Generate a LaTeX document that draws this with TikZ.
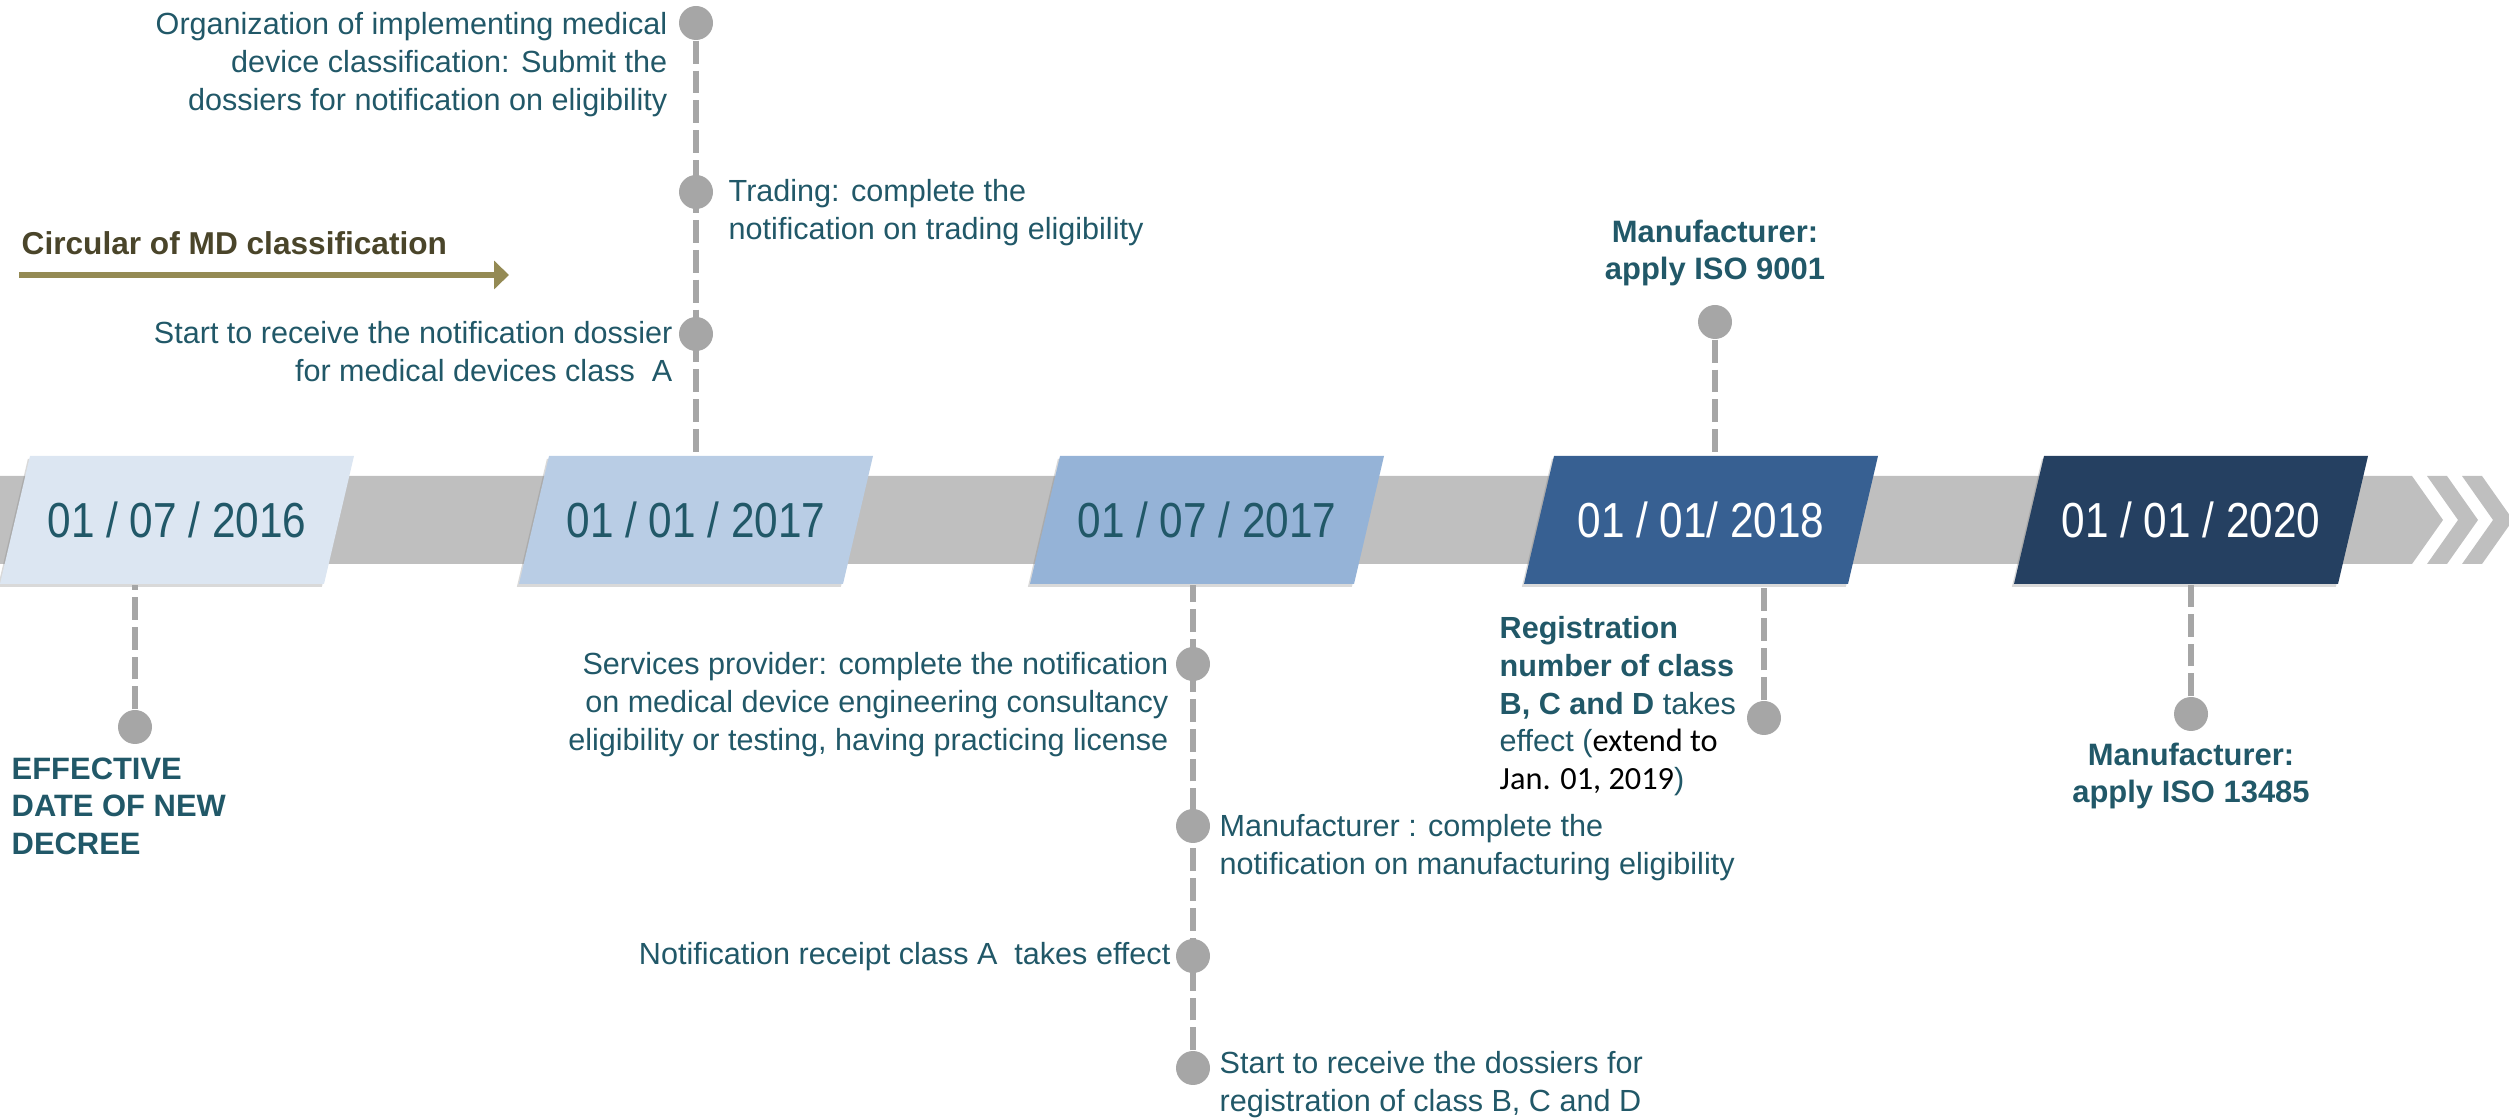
\documentclass[tikz,border=0pt]{standalone}
\usepackage{fontspec}
\setmainfont{Liberation Sans}
\newfontfamily\calfont{Carlito}
\usepackage{graphicx}
\usepackage{tikz}
\usetikzlibrary{arrows.meta,shadows}
\definecolor{tl}{RGB}{33, 88, 104}
\definecolor{gg}{RGB}{191, 191, 191}
\definecolor{dd}{RGB}{166, 166, 166}
\definecolor{ol}{RGB}{148, 138, 84}
\definecolor{od}{RGB}{74, 69, 42}
\definecolor{b1}{RGB}{220, 230, 242}
\definecolor{b2}{RGB}{185, 205, 229}
\definecolor{b3}{RGB}{149, 179, 215}
\definecolor{b4}{RGB}{55, 96, 146}
\definecolor{b5}{RGB}{37, 64, 97}
\def\height{1.28cm}
\def\width{2.94cm}
\tikzset{
	dot/.style={circle,fill=dd,minimum size=0.34cm,inner sep=0cm},
	stem/.style={color=dd,line width=1.5pt,dash pattern=on 6.5pt off 2pt},
	note/.style={text=tl,inner sep=0cm,font=\fontsize{8.7}{10.7}\selectfont},
	bnote/.style={text=tl,inner sep=0cm,font=\fontsize{8.8}{10.7}\selectfont\bfseries}
}
\newcommand{\datenode}[6]{\fill[#4,drop shadow={shadow xshift=-0.6pt,shadow yshift=-0.8pt,opacity=0.3}] (#1-177,#2+64) -- (#1+147,#2+64) -- (#1+177,#2-64) -- (#1-147,#2-64) -- cycle;
	\node[minimum height=\height,minimum width=\width,inner sep=0cm,text=#5,font=\fontsize{14}{16}\selectfont] (#3) at (#1,#2) {\scalebox{0.86}[1]{#6}};}

\begin{document}
\begin{tikzpicture}[x=0.1mm,y=-0.1mm]
\useasboundingbox (0,0) rectangle (2509,1120);
\fill[gg] (0,476) -- (2412,476) -- (2443,520) -- (2412,564) -- (0,564) -- cycle;
\foreach \c in {0,35}
	\fill[gg] (2427+\c,476) -- (2447+\c,476) -- (2478+\c,520) -- (2447+\c,564) -- (2427+\c,564) -- (2458+\c,520) -- cycle;

\datenode{177}{520}{d16}{b1}{tl}{01 / 07 / 2016}
\datenode{696}{520}{d17a}{b2}{tl}{01 / 01 / 2017}
\datenode{1207}{520}{d17b}{b3}{tl}{01 / 07 / 2017}
\datenode{1701}{520}{d18}{b4}{white}{01 / 01/ 2018}
\datenode{2191}{520}{d20}{b5}{white}{01 / 01 / 2020}

\node[dot] (e1) at (135,727) {};
\node[dot] (o1) at (696,23) {};
\node[dot] (o2) at (696,192) {};
\node[dot] (o3) at (696,334) {};
\node[dot] (u1) at (1193,664) {};
\node[dot] (u2) at (1193,826) {};
\node[dot] (u3) at (1193,956) {};
\node[dot] (u4) at (1193,1068) {};
\node[dot] (a1) at (1715,322) {};
\node[dot] (r1) at (1764,718) {};
\node[dot] (m1) at (2191,714) {};

\draw[stem] (e1) -- (e1 |- d16.south);
\draw[stem] (o1) -- (o1 |- d17a.north);
\draw[stem] (u4) -- (u4 |- d17b.south);
\draw[stem] (a1) -- (a1 |- d18.north);
\draw[stem] (r1) -- (r1 |- d18.south);
\draw[stem] (m1) -- (m1 |- d20.south);

\node[note,align=right,anchor=north east] (t1) at (668,12) {Organization of implementing medical\\device classification: Submit the\\dossiers for notification on eligibility};
\node[note,align=left,anchor=north west] (t2) at (728,179) {Trading: complete the\\notification on trading eligibility};
\node[note,align=right,anchor=north east] (t3) at (673,321) {Start to receive the notification dossier\\for medical devices class~ A};
\node[note,align=right,anchor=north east] (t4) at (1169,652) {Services provider: complete the notification\\on medical device engineering consultancy\\eligibility or testing, having practicing license};
\node[note,align=left,anchor=north west] (t5) at (1219,814) {Manufacturer : complete the\\notification on manufacturing eligibility};
\node[note,align=right,anchor=north east] (t6) at (1171,942) {Notification receipt class A~ takes effect};
\node[note,align=left,anchor=north west] (t7) at (1219,1051) {Start to receive the dossiers for\\registration of class B, C and D};
\node[bnote,align=left,anchor=north west] (t8) at (11,757) {EFFECTIVE\\DATE OF NEW\\DECREE};
\node[bnote,align=center,anchor=north] (t9) at (1715,219) {Manufacturer:\\apply ISO 9001};
\node[note,align=left,anchor=north west] (t10) at (1499,616) {\textbf{Registration}\\\textbf{number of class}\\\textbf{B, C and D} takes\\effect ({\calfont\fontsize{9.2}{10.7}\selectfont\color{black}extend to}\\{\calfont\fontsize{9.2}{10.7}\selectfont\color{black}Jan. 01, 2019})};
\node[bnote,align=center,anchor=north] (t11) at (2191,742) {Manufacturer:\\apply ISO 13485};

\node[bnote,text=od,font=\fontsize{9}{11}\selectfont\bfseries,anchor=base west] (circ) at (21,255) {Circular of MD classification};
\coordinate (c1) at (19,275);
\coordinate (c2) at (509,275);
\draw[-{Triangle[length=1.5mm,width=2.8mm]},line width=1.5pt,color=ol] (c1) -- (c2);
\end{tikzpicture}
\end{document}
